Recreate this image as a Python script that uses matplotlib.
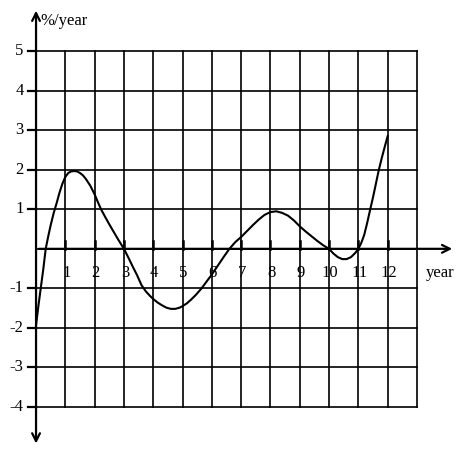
import matplotlib.pyplot as plt

# curve (year, %/year)
years = [0, 0.08, 0.16, 0.25, 0.33, 0.42, 0.5, 0.6, 0.7, 0.8, 0.9, 1.0, 1.1, 1.2, 1.3, 1.4,
         1.5, 1.6, 1.7, 1.85, 2.0, 2.1, 2.22, 2.35, 2.5, 2.65, 2.8, 3.0, 3.15, 3.3, 3.45,
         3.6, 3.75, 3.9, 4.0, 4.15, 4.3, 4.45, 4.6, 4.75, 4.9, 5.0, 5.15, 5.3, 5.45, 5.65,
         5.85, 6.0, 6.2, 6.4, 6.6, 6.8, 7.0, 7.2, 7.4, 7.6, 7.8, 8.0, 8.2, 8.4, 8.6, 8.8,
         9.0, 9.2, 9.4, 9.6, 9.8, 10.0, 10.15, 10.3, 10.45, 10.6, 10.75, 10.9, 11.0, 11.1,
         11.2, 11.3, 11.4, 11.5, 11.6, 11.7, 11.8, 11.9, 12.0]
rate = [-1.93, -1.45, -1.0, -0.5, 0.0, 0.33, 0.6, 0.9, 1.15, 1.42, 1.65, 1.82, 1.92, 1.96, 1.97, 1.96,
        1.92, 1.86, 1.77, 1.6, 1.38, 1.2, 1.0, 0.82, 0.62, 0.43, 0.24, 0.0, -0.22, -0.45, -0.67,
        -0.92, -1.08, -1.2, -1.27, -1.36, -1.43, -1.49, -1.52, -1.52, -1.49, -1.45, -1.38, -1.28, -1.17, -1.0,
        -0.8, -0.65, -0.43, -0.21, 0.0, 0.17, 0.3, 0.45, 0.6, 0.74, 0.86, 0.93, 0.95, 0.91, 0.84, 0.72,
        0.57, 0.44, 0.32, 0.2, 0.09, 0.0, -0.12, -0.21, -0.26, -0.26, -0.21, -0.1, 0.0, 0.15,
        0.35, 0.65, 0.98, 1.3, 1.65, 2.0, 2.3, 2.58, 2.85]

x_ticks = list(range(1, 13))
y_ticks = [5, 4, 3, 2, 1, -1, -2, -3, -4]

plt.rcParams['font.family'] = ['Liberation Serif', 'DejaVu Serif']

fig = plt.figure(figsize=(4.6, 4.55), dpi=100)
ax = fig.add_axes([0, 0, 1, 1])
ax.set_xlim(-1.23, 14.47)
ax.set_ylim(-5.22, 6.30)
ax.axis('off')

# grid
for x in range(1, 14):
    ax.plot([x, x], [-4, 5], color='black', lw=1.2)
for y in range(-4, 6):
    ax.plot([0, 13], [y, y], color='black', lw=1.2)

# axes with arrows
ax.annotate('', xy=(0, 6.1), xytext=(0, -5.0),
            arrowprops=dict(arrowstyle='<->', lw=1.6, color='black', mutation_scale=14))
ax.annotate('', xy=(14.3, 0), xytext=(0, 0),
            arrowprops=dict(arrowstyle='->', lw=1.6, color='black', mutation_scale=14))

# tick marks
for y in y_ticks:
    ax.plot([-0.28, 0], [y, y], color='black', lw=1.6)
for x in x_ticks:
    ax.plot([x, x], [0, 0.2], color='black', lw=1.8)

# labels
for y in y_ticks:
    ax.text(-0.42, y, str(y), ha='right', va='center', fontsize=12)
for x in x_ticks:
    ax.text(x + 0.03, -0.6, str(x), ha='center', va='center', fontsize=12)
ax.text(0.14, 5.78, '%/year', ha='left', va='center', fontsize=12)
ax.text(13.3, -0.62, 'year', ha='left', va='center', fontsize=12)

ax.plot(years, rate, color='black', lw=1.5, solid_joinstyle='round')

fig.savefig('out.png', dpi=100)
